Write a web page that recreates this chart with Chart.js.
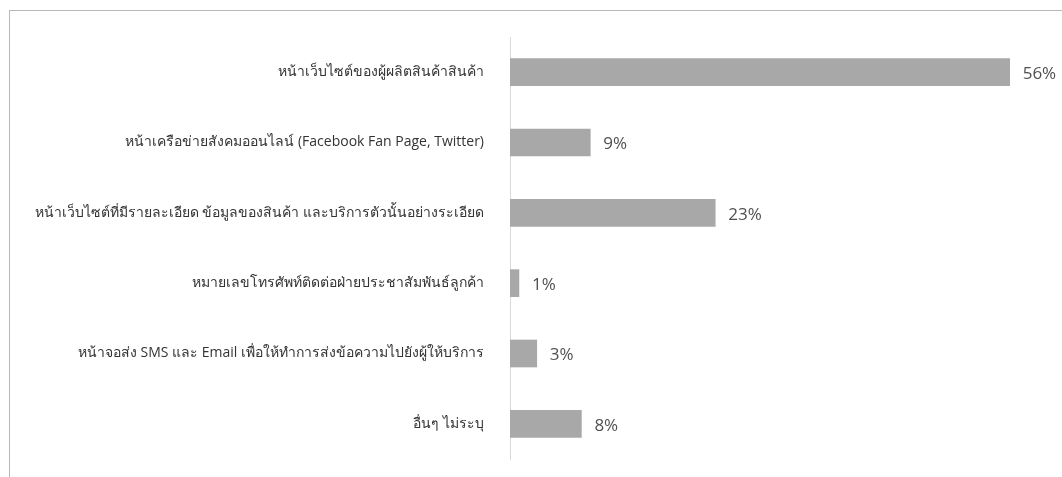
<!DOCTYPE html>
<html>
<head>
<meta charset="utf-8">
<script src="https://cdn.jsdelivr.net/npm/chart.js@4"></script>
<style>
html,body{margin:0;padding:0;background:#fff;}
#wrap{position:absolute;left:0;top:0;width:1062px;height:477px;}
#frame{position:absolute;left:9px;top:10px;width:1053px;height:467px;border-top:1px solid #b8b8b8;border-left:1px solid #b8b8b8;box-sizing:border-box;}
canvas{position:absolute;left:0;top:0;}
</style>
</head>
<body>
<div id="wrap">
<div id="frame"></div>
<canvas id="c" width="1062" height="477"></canvas>
</div>
<script>
const categories = [
  "หน้าเว็บไซต์ของผู้ผลิตสินค้าสินค้า",
  "หน้าเครือข่ายสังคมออนไลน์ (Facebook Fan Page, Twitter)",
  "หน้าเว็บไซต์ที่มีรายละเอียด ข้อมูลของสินค้า และบริการตัวนั้นอย่างระเอียด",
  "หมายเลขโทรศัพท์ติดต่อฝ่ายประชาสัมพันธ์ลูกค้า",
  "หน้าจอส่ง SMS และ Email เพื่อให้ทำการส่งข้อความไปยังผู้ให้บริการ",
  "อื่นๆ ไม่ระบุ"
];
const percentValues = [56, 9, 23, 1, 3, 8];
const valueLabels = ["56%", "9%", "23%", "1%", "3%", "8%"];

const FONT = "'Open Sans', 'Noto Sans', sans-serif";

const valueLabelPlugin = {
  id: 'valueLabels',
  afterDatasetsDraw(chart) {
    const ctx = chart.ctx;
    const meta = chart.getDatasetMeta(0);
    ctx.save();
    ctx.font = "17px " + FONT;
    ctx.fillStyle = "#505050";
    ctx.textBaseline = "middle";
    ctx.textAlign = "left";
    meta.data.forEach((bar, i) => {
      ctx.fillText(valueLabels[i], bar.x + 13, bar.y + 2);
    });
    ctx.restore();
  }
};

new Chart(document.getElementById('c'), {
  type: 'bar',
  data: {
    labels: categories,
    datasets: [{
      data: percentValues,
      backgroundColor: '#a8a8a8',
      borderWidth: 0,
      barThickness: 27
    }]
  },
  options: {
    indexAxis: 'y',
    responsive: false,
    animation: false,
    events: [],
    layout: { padding: { top: 37, bottom: 18, left: 20, right: 22 } },
    plugins: { legend: { display: false }, tooltip: { enabled: false } },
    scales: {
      x: {
        min: 0,
        max: 59.4,
        display: false,
        grid: { display: false }
      },
      y: {
        grid: { display: false, drawTicks: false },
        border: { display: true, color: '#d9d9d9', width: 1 },
        ticks: {
          color: '#333333',
          padding: 26,
          font: { family: FONT, size: 14 }
        },
        afterFit(scale) {
          scale.width = 490;
          scale.paddingTop = 0;
          scale.paddingBottom = 0;
        }
      }
    }
  },
  plugins: [valueLabelPlugin]
});
</script>
</body>
</html>
